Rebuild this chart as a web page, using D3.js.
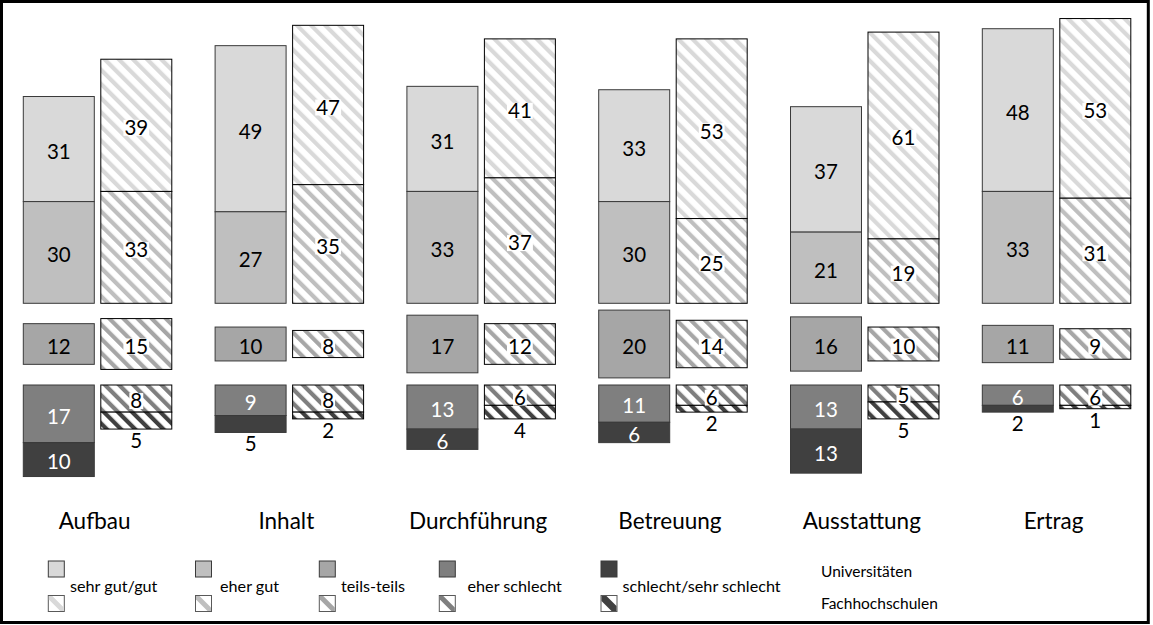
<!DOCTYPE html>
<html>
<head>
<meta charset="utf-8">
<script src="https://cdn.jsdelivr.net/npm/d3@7"></script>
<style>
  html, body { margin: 0; padding: 0; background: #ffffff; }
  svg { display: block; }
  text { font-family: Lato, "Open Sans", sans-serif; }
</style>
</head>
<body>
<script>
// ---------------- data ----------------
const categories = ["Aufbau", "Inhalt", "Durchführung", "Betreuung", "Ausstattung", "Ertrag"];
const ratingLabels = ["sehr gut/gut", "eher gut", "teils-teils", "eher schlecht", "schlecht/sehr schlecht"];
const schoolLabels = ["Universitäten", "Fachhochschulen"];

const uniSehrGut      = [31, 49, 31, 33, 37, 48];
const uniEherGut      = [30, 27, 33, 30, 21, 33];
const uniTeils        = [12, 10, 17, 20, 16, 11];
const uniEherSchlecht = [17,  9, 13, 11, 13,  6];
const uniSchlecht     = [10,  5,  6,  6, 13,  2];

const fhSehrGut      = [39, 47, 41, 53, 61, 53];
const fhEherGut      = [33, 35, 37, 25, 19, 31];
const fhTeils        = [15,  8, 12, 14, 10,  9];
const fhEherSchlecht = [ 8,  8,  6,  6,  5,  6];
const fhSchlecht     = [ 5,  2,  4,  2,  5,  1];

// ---------------- layout ----------------
const W = 1153, H = 625;
const colors = ["#d9d9d9", "#bfbfbf", "#a6a6a6", "#7f7f7f", "#404040"];
const baseTop = 303.3, midCenter = 344, lowTop = 385;

const svg = d3.select("body").append("svg").attr("width", W).attr("height", H);
svg.append("rect").attr("width", W).attr("height", H).attr("fill", "#fff");

const defs = svg.append("defs");
colors.forEach((c, k) => {
  const p = defs.append("pattern")
    .attr("id", "hatch" + k)
    .attr("patternUnits", "userSpaceOnUse")
    .attr("width", 10).attr("height", 10)
    .attr("patternTransform", "rotate(-45)");
  p.append("rect").attr("width", 10).attr("height", 10).attr("fill", "#fff");
  p.append("rect").attr("x", 0).attr("width", 4.2).attr("height", 10).attr("fill", c);
});

const x = d3.scaleBand().domain(categories).range([23.3, 1130.8]).paddingInner(0.2258).paddingOuter(0);
const xs = d3.scaleBand().domain(["uni", "fh"]).range([0, x.bandwidth()]).paddingInner(0.0839).paddingOuter(0);
const h = d3.scaleLinear().domain([0, 100]).range([0, 339]);

const schools = {
  uni: [uniSehrGut, uniEherGut, uniTeils, uniEherSchlecht, uniSchlecht],
  fh:  [fhSehrGut, fhEherGut, fhTeils, fhEherSchlecht, fhSchlecht]
};

const segs = [];
categories.forEach((cat, i) => {
  ["uni", "fh"].forEach(s => {
    const v = schools[s].map(a => a[i]);
    const x0 = x(cat) + xs(s);
    const ys = [
      [baseTop - h(v[0] + v[1]), baseTop - h(v[1])],
      [baseTop - h(v[1]), baseTop],
      [midCenter - h(v[2]) / 2, midCenter + h(v[2]) / 2],
      [lowTop, lowTop + h(v[3])],
      [lowTop + h(v[3]), lowTop + h(v[3]) + h(v[4])]
    ];
    v.forEach((val, k) => segs.push({ cat, s, k, val, x0, y0: ys[k][0], y1: ys[k][1] }));
  });
});

const bw = xs.bandwidth();
svg.append("g").selectAll("rect").data(segs).join("rect")
  .attr("x", d => d.x0).attr("y", d => d.y0)
  .attr("width", bw).attr("height", d => d.y1 - d.y0)
  .attr("fill", d => d.s === "uni" ? colors[d.k] : `url(#hatch${d.k})`)
  .attr("stroke", d => d.s === "uni" ? "#3a3a3a" : "#000")
  .attr("stroke-width", 1);

// data labels
const fs = 20.5;
const lg = svg.append("g");
segs.forEach(d => {
  const below = d.k === 4 && d.val <= 5;
  const cy = below ? d.y1 + 11.5 : (d.y0 + d.y1) / 2 + 2.5;
  const cx = d.x0 + bw / 2;
  const g = lg.append("g");
  const t = g.append("text")
    .attr("x", cx).attr("y", cy + fs * 0.358)
    .attr("text-anchor", "middle")
    .attr("font-size", fs)
    .attr("fill", (!below && d.s === "uni" && d.k >= 3) ? "#fff" : "#000")
    .text(d.val);
  if (d.s === "fh" && !below) {
    const bb = t.node().getBBox();
    g.insert("rect", "text")
      .attr("x", bb.x - 1).attr("y", cy - 8)
      .attr("width", bb.width + 2).attr("height", 16)
      .attr("fill", "#fff");
  }
});

// category labels
svg.append("g").selectAll("text").data(categories).join("text")
  .attr("x", d => x(d) + x.bandwidth() / 2 - 3)
  .attr("y", 529)
  .attr("text-anchor", "middle")
  .attr("font-size", 22.5)
  .attr("fill", "#000")
  .text(d => d);

// legend
const legSq = [48.3, 195.5, 319.3, 439.3, 601];
const legTx = [70, 220, 341, 467.5, 622.5];
const leg = svg.append("g");
ratingLabels.forEach((lab, k) => {
  const sx = legSq[k];
  leg.append("rect").attr("x", sx).attr("y", 561).attr("width", 16).attr("height", 16)
    .attr("fill", colors[k]).attr("stroke", "#3a3a3a").attr("stroke-width", 1);
  const y2 = 595.5;
  leg.append("rect").attr("x", sx).attr("y", y2).attr("width", 16).attr("height", 16)
    .attr("fill", "#fff").attr("stroke", "#595959").attr("stroke-width", 1);
  const bwid = k === 4 ? 5.5 : 4;
  leg.append("polygon")
    .attr("points", [[sx + 0.5, y2 + 0.5], [sx + bwid, y2 + 0.5], [sx + 15.5, y2 + 16 - bwid], [sx + 15.5, y2 + 15.5], [sx + 16 - bwid, y2 + 15.5], [sx + 0.5, y2 + bwid]].map(p => p.join(",")).join(" "))
    .attr("fill", colors[k]);
  leg.append("text").attr("x", legTx[k]).attr("y", 591.5)
    .attr("font-size", 16.2).attr("fill", "#000").text(lab);
});
schoolLabels.forEach((lab, j) => {
  leg.append("text").attr("x", 821).attr("y", j === 0 ? 577 : 608.5)
    .attr("font-size", 15.5).attr("fill", "#000").text(lab);
});

// frame
svg.append("rect").attr("x", 1.5).attr("y", 1.5).attr("width", 1146.8).attr("height", 621)
  .attr("fill", "none").attr("stroke", "#000").attr("stroke-width", 3);
</script>
</body>
</html>
